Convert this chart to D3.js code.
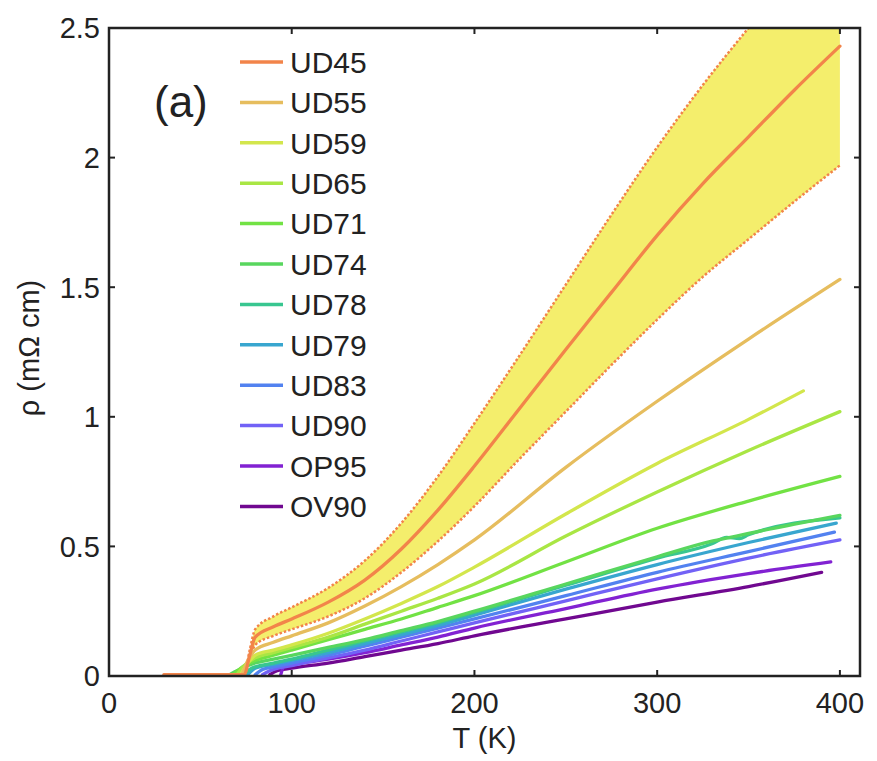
<!DOCTYPE html>
<html>
<head>
<meta charset="utf-8">
<script src="https://cdn.jsdelivr.net/npm/d3@7"></script>
<style>
  body { margin: 0; background: #fff; }
  text { font-family: "Liberation Sans", Arial, sans-serif; fill: #222; }
</style>
</head>
<body>
<div id="chart-area"></div>
<script>
// resistivity rho (mOhm cm) vs T (K)

var ud45T   = [30, 74, 77, 80, 90, 100, 120, 140, 160, 180, 200, 225, 250, 275, 300, 325, 350, 375, 400];
var ud45Rho = [0.005, 0.005, 0.08, 0.15, 0.19, 0.22, 0.285, 0.37, 0.49, 0.64, 0.81, 1.035, 1.26, 1.48, 1.70, 1.90, 2.08, 2.26, 2.43];
// upper / lower error band of UD45 (dotted)
var ud45Hi  = [0.005, 0.005, 0.10, 0.18, 0.23, 0.265, 0.34, 0.445, 0.59, 0.77, 0.975, 1.24, 1.51, 1.78, 2.04, 2.28, 2.50, 2.71, 2.92];
var ud45Lo  = [0.005, 0.005, 0.065, 0.12, 0.155, 0.18, 0.23, 0.30, 0.40, 0.52, 0.655, 0.84, 1.02, 1.20, 1.375, 1.54, 1.685, 1.83, 1.97];

var ud55T   = [35, 72, 76, 80, 90, 100, 120, 140, 160, 180, 200, 250, 300, 350, 400];
var ud55Rho = [0.005, 0.005, 0.06, 0.10, 0.13, 0.155, 0.205, 0.27, 0.345, 0.43, 0.525, 0.805, 1.06, 1.30, 1.53];

var ud59T   = [72, 76, 80, 90, 100, 120, 140, 160, 180, 200, 250, 300, 350, 380];
var ud59Rho = [0.005, 0.05, 0.08, 0.10, 0.12, 0.165, 0.22, 0.28, 0.345, 0.42, 0.625, 0.82, 0.99, 1.10];

var ud65T   = [70, 74, 80, 90, 100, 120, 140, 160, 180, 200, 250, 300, 350, 400];
var ud65Rho = [0.005, 0.04, 0.07, 0.09, 0.11, 0.15, 0.20, 0.25, 0.30, 0.355, 0.54, 0.71, 0.87, 1.02];

var ud71T   = [68, 72, 80, 90, 100, 120, 140, 160, 180, 200, 250, 300, 350, 400];
var ud71Rho = [0.005, 0.03, 0.06, 0.08, 0.10, 0.14, 0.18, 0.22, 0.265, 0.31, 0.44, 0.57, 0.675, 0.77];

var ud74T   = [66, 70, 80, 90, 100, 120, 140, 160, 180, 200, 250, 300, 330, 340, 350, 400];
var ud74Rho = [0.005, 0.02, 0.05, 0.065, 0.08, 0.11, 0.14, 0.175, 0.21, 0.25, 0.355, 0.46, 0.52, 0.535, 0.55, 0.62];

var ud78T   = [74, 78, 90, 100, 120, 140, 160, 180, 200, 250, 300, 330, 338, 345, 350, 400];
var ud78Rho = [0.005, 0.03, 0.05, 0.065, 0.10, 0.135, 0.17, 0.205, 0.245, 0.35, 0.455, 0.51, 0.535, 0.53, 0.545, 0.61];

var ud79T   = [76, 80, 90, 100, 120, 140, 160, 180, 200, 250, 300, 350, 398];
var ud79Rho = [0.005, 0.03, 0.045, 0.06, 0.09, 0.125, 0.16, 0.195, 0.235, 0.335, 0.43, 0.515, 0.59];

var ud83T   = [80, 84, 90, 100, 120, 140, 160, 180, 200, 250, 300, 350, 397];
var ud83Rho = [0.005, 0.025, 0.035, 0.05, 0.08, 0.115, 0.15, 0.185, 0.22, 0.31, 0.40, 0.48, 0.555];

var ud90T   = [84, 88, 100, 120, 140, 160, 180, 200, 250, 300, 350, 400];
var ud90Rho = [0.005, 0.02, 0.04, 0.07, 0.10, 0.135, 0.17, 0.205, 0.29, 0.375, 0.455, 0.525];

var op95T   = [94, 96, 100, 120, 140, 160, 180, 200, 250, 300, 350, 395];
var op95Rho = [0.005, 0.04, 0.045, 0.065, 0.09, 0.12, 0.15, 0.185, 0.26, 0.335, 0.395, 0.44];

var ov90T   = [88, 92, 100, 120, 140, 160, 180, 200, 250, 300, 350, 390];
var ov90Rho = [0.005, 0.02, 0.03, 0.05, 0.075, 0.10, 0.125, 0.155, 0.22, 0.285, 0.345, 0.40];

var sampleNames = ["UD45", "UD55", "UD59", "UD65", "UD71", "UD74", "UD78", "UD79", "UD83", "UD90", "OP95", "OV90"];
var sampleT   = [ud45T, ud55T, ud59T, ud65T, ud71T, ud74T, ud78T, ud79T, ud83T, ud90T, op95T, ov90T];
var sampleRho = [ud45Rho, ud55Rho, ud59Rho, ud65Rho, ud71Rho, ud74Rho, ud78Rho, ud79Rho, ud83Rho, ud90Rho, op95Rho, ov90Rho];
var sampleColors = ["#f2844a", "#e6bd5e", "#d3e64c", "#a9e644", "#72e244", "#58d65e", "#38c690",
                    "#38a6cf", "#5282f0", "#7262f6", "#8222d2", "#700890"];

var xTicks = [0, 100, 200, 300, 400];
var yTicks = [0, 0.5, 1, 1.5, 2, 2.5];

var margin = { left: 109, right: 17, top: 28, bottom: 85 };
var width = 877 - margin.left - margin.right,
    height = 761 - margin.top - margin.bottom;

var svg = d3.select("#chart-area")
    .append("svg")
        .attr("width", 877)
        .attr("height", 761);

var g = svg.append("g")
    .attr("transform", "translate(" + margin.left + ", " + margin.top + ")");

var x = d3.scaleLinear().domain([0, 411]).range([0, width]);
var y = d3.scaleLinear().domain([0, 2.5]).range([height, 0]);

g.append("clipPath")
    .attr("id", "plot-clip")
  .append("rect")
    .attr("width", width)
    .attr("height", height);

var plot = g.append("g").attr("clip-path", "url(#plot-clip)");

// UD45 error band
var band = ud45T.map(function(t, i){ return { t: t, lo: ud45Lo[i], hi: ud45Hi[i] }; });

plot.append("path")
    .datum(band)
    .attr("fill", "#f4ee6c")
    .attr("d", d3.area()
        .x(function(d){ return x(d.t); })
        .y0(function(d){ return y(d.lo); })
        .y1(function(d){ return y(d.hi); })
        .curve(d3.curveMonotoneX));

var line = d3.line()
    .x(function(d){ return x(d[0]); })
    .y(function(d){ return y(d[1]); })
    .curve(d3.curveMonotoneX);

[ud45Hi, ud45Lo].forEach(function(vals){
    plot.append("path")
        .datum(ud45T.map(function(t, i){ return [t, vals[i]]; }))
        .attr("fill", "none")
        .attr("stroke", "#f2844a")
        .attr("stroke-width", 2.5)
        .attr("stroke-dasharray", "2.5,2")
        .attr("d", line);
});

// draw from last to first so UD45 ends on top
for (var i = sampleNames.length - 1; i >= 0; i--) {
    var pts = sampleT[i].map(function(t, j){ return [t, sampleRho[i][j]]; });
    plot.append("path")
        .datum(pts)
        .attr("fill", "none")
        .attr("stroke", sampleColors[i])
        .attr("stroke-width", 3.3)
        .attr("stroke-linecap", "round")
        .attr("d", line);
}

// Box + inward ticks
g.append("rect")
    .attr("width", width)
    .attr("height", height)
    .attr("fill", "none")
    .attr("stroke", "#222")
    .attr("stroke-width", 2.5);

var tickLen = 6;
xTicks.forEach(function(t){
    g.append("line").attr("x1", x(t)).attr("x2", x(t))
        .attr("y1", height).attr("y2", height - tickLen)
        .attr("stroke", "#222").attr("stroke-width", 2);
    g.append("line").attr("x1", x(t)).attr("x2", x(t))
        .attr("y1", 0).attr("y2", tickLen)
        .attr("stroke", "#222").attr("stroke-width", 2);
    g.append("text")
        .attr("x", x(t))
        .attr("y", height + 37)
        .attr("font-size", "29px")
        .attr("text-anchor", "middle")
        .text(t);
});

yTicks.forEach(function(v){
    g.append("line").attr("x1", 0).attr("x2", tickLen)
        .attr("y1", y(v)).attr("y2", y(v))
        .attr("stroke", "#222").attr("stroke-width", 2);
    g.append("line").attr("x1", width).attr("x2", width - tickLen)
        .attr("y1", y(v)).attr("y2", y(v))
        .attr("stroke", "#222").attr("stroke-width", 2);
    g.append("text")
        .attr("x", -9)
        .attr("y", y(v))
        .attr("dy", "0.36em")
        .attr("font-size", "29px")
        .attr("text-anchor", "end")
        .text(v);
});

// X Label
g.append("text")
    .attr("x", width / 2)
    .attr("y", height + 72)
    .attr("font-size", "29px")
    .attr("text-anchor", "middle")
    .text("T (K)");

// Y Label
g.append("text")
    .attr("transform", "translate(" + (-70) + "," + 320 + ") rotate(-90)")
    .attr("font-size", "29px")
    .attr("text-anchor", "middle")
    .text("ρ (mΩ cm)");

// panel tag
g.append("text")
    .attr("x", 45)
    .attr("y", 89)
    .attr("font-size", "44px")
    .text("(a)");

// Legend
var legend = g.append("g").attr("transform", "translate(131, 34)");
sampleNames.forEach(function(name, i){
    var row = legend.append("g").attr("transform", "translate(0," + (i * 40.4) + ")");
    row.append("line")
        .attr("x1", 0).attr("x2", 43)
        .attr("stroke", sampleColors[i])
        .attr("stroke-width", 3.5);
    row.append("text")
        .attr("x", 50)
        .attr("dy", "0.36em")
        .attr("font-size", "30px")
        .text(name);
});
</script>
</body>
</html>
